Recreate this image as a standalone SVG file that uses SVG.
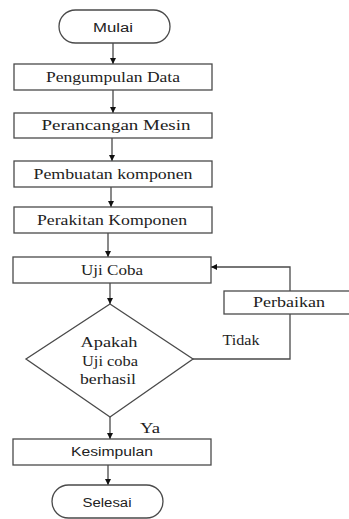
<svg xmlns="http://www.w3.org/2000/svg" width="349" height="519" viewBox="0 0 349 519">
<style>
.box{fill:#fff;stroke:#4a4a4a;stroke-width:1.3}
.ln{fill:none;stroke:#4a4a4a;stroke-width:1.3}
.serif{font-family:'Liberation Serif','DejaVu Serif','Times New Roman',serif;font-size:14px;fill:#222}
.sans{font-family:'Liberation Sans',Arial,sans-serif;font-size:12px;fill:#222}
</style>
<defs>
<marker id="ah" viewBox="0 0 10 10" refX="10" refY="5" markerWidth="6" markerHeight="6" markerUnits="userSpaceOnUse" orient="auto">
<path d="M0,0 L10,5 L0,10 z" fill="#111"/>
</marker>
</defs>
<rect width="349" height="519" fill="#fff"/>
<g id="connectors">
<line class="ln" x1="113" y1="43" x2="113" y2="64" marker-end="url(#ah)"/>
<line class="ln" x1="113" y1="90" x2="113" y2="113" marker-end="url(#ah)"/>
<line class="ln" x1="112" y1="138" x2="112" y2="161" marker-end="url(#ah)"/>
<line class="ln" x1="111" y1="187" x2="111" y2="207" marker-end="url(#ah)"/>
<line class="ln" x1="108" y1="233" x2="108" y2="257" marker-end="url(#ah)"/>
<line class="ln" x1="110" y1="283" x2="110" y2="304" marker-end="url(#ah)"/>
<line class="ln" x1="110" y1="417" x2="110" y2="439" marker-end="url(#ah)"/>
<line class="ln" x1="108" y1="465" x2="108" y2="485" marker-end="url(#ah)"/>
<polyline class="ln" points="193,359 290,359 290,314"/>
<polyline class="ln" points="290,291 290,267 211,267" marker-end="url(#ah)"/>
</g>
<g id="mulai">
<rect class="box" x="59" y="10" width="111" height="33" rx="16.5"/>
<text class="sans" x="113" y="32" text-anchor="middle" textLength="40" lengthAdjust="spacingAndGlyphs">Mulai</text>
</g>
<g id="pengumpulan">
<rect class="box" x="14" y="64" width="198" height="26"/>
<text class="serif" x="113" y="82" text-anchor="middle" textLength="134" lengthAdjust="spacingAndGlyphs">Pengumpulan Data</text>
</g>
<g id="perancangan">
<rect class="box" x="14" y="113" width="198" height="25"/>
<text class="serif" x="116" y="130" text-anchor="middle" textLength="149" lengthAdjust="spacingAndGlyphs">Perancangan Mesin</text>
</g>
<g id="pembuatan">
<rect class="box" x="14" y="161" width="198" height="26"/>
<text class="serif" x="113" y="179" text-anchor="middle" textLength="159" lengthAdjust="spacingAndGlyphs">Pembuatan komponen</text>
</g>
<g id="perakitan">
<rect class="box" x="14" y="207" width="198" height="26"/>
<text class="serif" x="112" y="225" text-anchor="middle" textLength="150" lengthAdjust="spacingAndGlyphs">Perakitan Komponen</text>
</g>
<g id="ujicoba">
<rect class="box" x="13" y="257" width="198" height="26"/>
<text class="serif" x="112" y="275" text-anchor="middle" textLength="62" lengthAdjust="spacingAndGlyphs">Uji Coba</text>
</g>
<g id="perbaikan">
<rect class="box" x="224" y="291" width="130" height="23"/>
<text class="serif" x="289" y="307" text-anchor="middle" textLength="72" lengthAdjust="spacingAndGlyphs">Perbaikan</text>
</g>
<g id="keputusan">
<polygon class="box" points="110,304 193,359 110,417 26,359"/>
<text class="serif" x="109" y="347" text-anchor="middle" textLength="57" lengthAdjust="spacingAndGlyphs">Apakah</text>
<text class="serif" x="110" y="366" text-anchor="middle" textLength="56" lengthAdjust="spacingAndGlyphs">Uji coba</text>
<text class="serif" x="108" y="384" text-anchor="middle" textLength="56" lengthAdjust="spacingAndGlyphs">berhasil</text>
<text class="serif" x="241" y="345" text-anchor="middle" textLength="37" lengthAdjust="spacingAndGlyphs">Tidak</text>
<text class="serif" x="150" y="433" text-anchor="middle" textLength="20" lengthAdjust="spacingAndGlyphs">Ya</text>
</g>
<g id="kesimpulan">
<rect class="box" x="13" y="439" width="198" height="26"/>
<text class="sans" x="112" y="456" text-anchor="middle" textLength="82" lengthAdjust="spacingAndGlyphs">Kesimpulan</text>
</g>
<g id="selesai">
<rect class="box" x="52" y="485" width="111" height="33" rx="16.5"/>
<text class="sans" x="107" y="507" text-anchor="middle" textLength="49" lengthAdjust="spacingAndGlyphs">Selesai</text>
</g>
</svg>
